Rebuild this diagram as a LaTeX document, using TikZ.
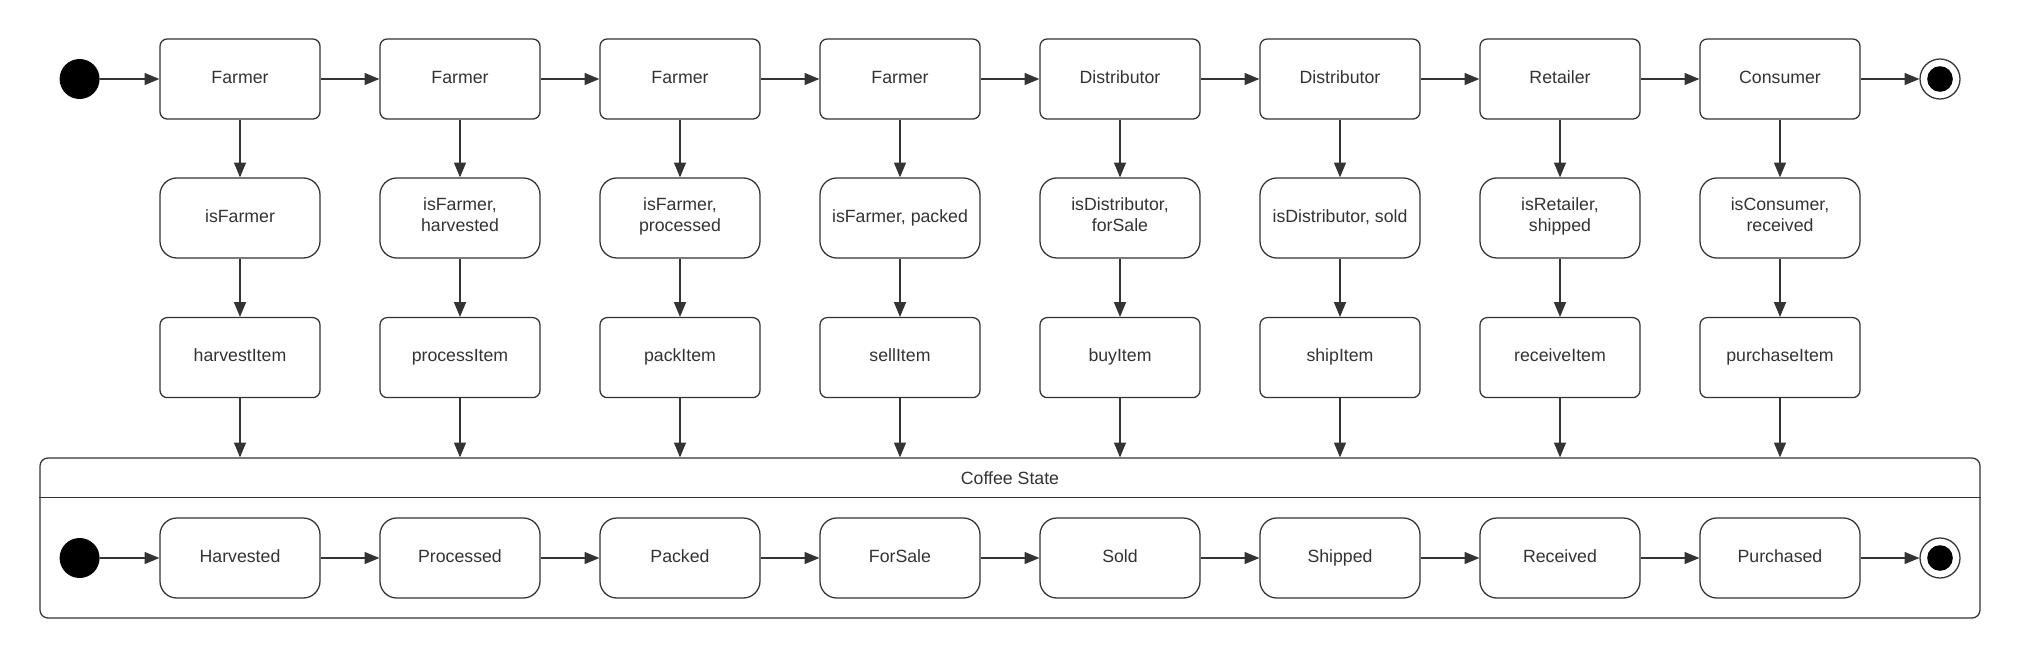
\documentclass[tikz,border=0pt]{standalone}
\usepackage{fontspec}
\setmainfont{Liberation Sans}
\usetikzlibrary{arrows.meta}
\definecolor{linegray}{HTML}{333333}
\tikzset{
  actor/.style={draw=linegray, line width=0.9pt, rounded corners=0.18cm,
    minimum width=4cm, minimum height=2cm, text=linegray, align=center,
    execute at begin node=\strut, execute at end node=\strut},
  guard/.style={actor, rounded corners=0.42cm},
  flow/.style={draw=linegray, line width=0.9pt,
    -{Triangle[length=10.5pt,width=8.5pt]}},
  initial/.style={circle, fill=black, minimum size=1cm, inner sep=0pt},
  final/.style={circle, draw=linegray, line width=0.9pt, minimum size=1cm, inner sep=0pt},
}
\begin{document}
\begin{tikzpicture}[font=\fontsize{12.6}{15}\selectfont]
  \useasboundingbox (0,0) rectangle (50.5,-16.45);

  % top lane: roles, checks, functions
  \node[initial] (start) at (1.99,-1.975) {};
  \foreach \i/\role/\cond/\fn in {
      1/Farmer/isFarmer/harvestItem,
      2/Farmer/{isFarmer,\\harvested}/processItem,
      3/Farmer/{isFarmer,\\processed}/packItem,
      4/Farmer/{isFarmer, packed}/sellItem,
      5/Distributor/{isDistributor,\\forSale}/buyItem,
      6/Distributor/{isDistributor, sold}/shipItem,
      7/Retailer/{isRetailer,\\shipped}/receiveItem,
      8/Consumer/{isConsumer,\\received}/purchaseItem}
  {
    \node[actor] (role\i) at ({6+5.5*(\i-1)},-1.975) {\role};
    \node[guard] (cond\i) at ({6+5.5*(\i-1)},-5.45) {\cond};
    \node[actor] (fn\i) at ({6+5.5*(\i-1)},-8.94) {\fn};
    \draw[flow] (role\i) -- (cond\i);
    \draw[flow] (cond\i) -- (fn\i);
  }
  \node[final] (stop) at (48.5,-1.975) {};
  \fill (stop.center) circle (0.32);

  \draw[flow] (start) -- (role1);
  \foreach \i [count=\j from 2] in {1,...,7}
    \draw[flow] (role\i) -- (role\j);
  \draw[flow] (role8) -- (stop);

  % composite state
  \node[draw=linegray, line width=0.9pt, rounded corners=0.2cm,
    minimum width=48.5cm, minimum height=4cm] (coffee) at (25.25,-13.45) {};
  \node[text=linegray] (title) at (25.25,-11.95) {Coffee State};
  \draw[linegray, line width=0.9pt] ([yshift=-1cm]coffee.north west)
    -- ([yshift=-1cm]coffee.north east);

  \foreach \i in {1,...,8}
    \draw[flow] (fn\i) -- (fn\i |- coffee.north);

  \node[initial] (istart) at (1.99,-13.95) {};
  \foreach \i/\st in {1/Harvested, 2/Processed, 3/Packed, 4/ForSale,
      5/Sold, 6/Shipped, 7/Received, 8/Purchased}
    \node[guard] (st\i) at ({6+5.5*(\i-1)},-13.95) {\st};
  \node[final] (istop) at (48.5,-13.95) {};
  \fill (istop.center) circle (0.32);

  \draw[flow] (istart) -- (st1);
  \foreach \i [count=\j from 2] in {1,...,7}
    \draw[flow] (st\i) -- (st\j);
  \draw[flow] (st8) -- (istop);
\end{tikzpicture}
\end{document}
